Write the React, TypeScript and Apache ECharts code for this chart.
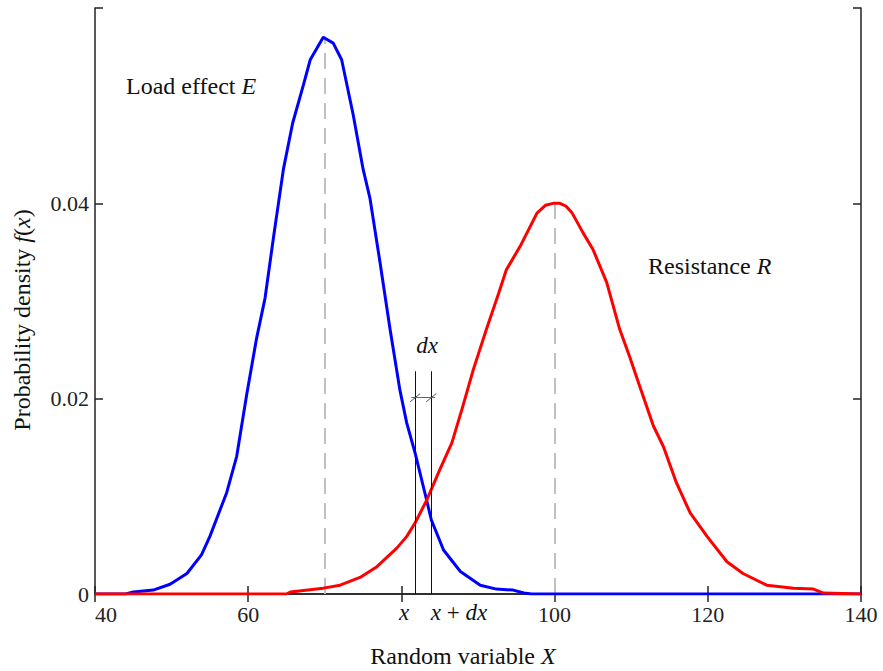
import React, { useEffect, useRef } from "react";
import * as echarts from "echarts";

// Load effect E (blue): x values and probability density
const blueX = [40, 44, 45, 47.6, 49.8, 52.0, 53.9, 55.0, 57.2, 58.5, 59.8, 61.1, 62.2, 63.3, 64.6, 65.8, 67.2, 68.1, 69.8, 71.1, 72.2, 73.7, 75.0, 75.9, 77.2, 78.5, 79.8, 80.7, 81.8, 83.3, 83.9, 85.5, 87.7, 90.3, 92.4, 94.6, 96, 97, 140];
const blueY = [0, 0, 0.0002, 0.0004, 0.001, 0.0021, 0.004, 0.0059, 0.0104, 0.0141, 0.0204, 0.0262, 0.0303, 0.0365, 0.0435, 0.0482, 0.0521, 0.0547, 0.057, 0.0564, 0.0547, 0.0491, 0.0435, 0.0405, 0.034, 0.0272, 0.0209, 0.0175, 0.0144, 0.0096, 0.0076, 0.0045, 0.0023, 0.0009, 0.0005, 0.0004, 0.0001, 0, 0];

// Resistance R (red)
const redX = [40, 65, 65.5, 69.8, 72.0, 74.6, 76.8, 79.4, 80.7, 81.8, 83.3, 85.0, 86.6, 87.9, 89.4, 91.1, 92.7, 93.7, 95.5, 97.7, 98.8, 99.8, 100.7, 101.5, 102.3, 103.7, 105.0, 106.8, 108.5, 109.8, 111.1, 112.9, 114.2, 115.9, 117.7, 119.9, 122.5, 124.6, 127.7, 131.2, 133.8, 135.1, 140];
const redY = [0, 0, 0.0002, 0.0006, 0.0009, 0.0017, 0.0028, 0.0047, 0.0059, 0.0073, 0.0096, 0.0127, 0.0155, 0.0189, 0.023, 0.0271, 0.0308, 0.0332, 0.0356, 0.039, 0.0398, 0.04, 0.04, 0.0397, 0.039, 0.037, 0.0353, 0.0319, 0.0271, 0.0243, 0.0213, 0.0172, 0.0151, 0.0114, 0.0083, 0.0059, 0.0033, 0.0021, 0.0009, 0.0006, 0.0005, 0.0001, 0];

// Axis ticks
const xTicks = [40, 60, 80, 100, 120, 140];
const xTickLabels = ["40", "60", "", "100", "120", "140"];
const yTickLabels = ["0", "0.02", "0.04", ""];

// Reference lines
const meanE = 70;
const peakE = 0.0568;
const meanR = 100;
const peakR = 0.0399;
const xLeft = 81.8;
const xRight = 83.9;
const dxTop = 0.0228;
const dimY = 0.0201;

const FONT = "'Liberation Serif', 'Times New Roman', serif";

export default function App() {
  const ref = useRef<HTMLDivElement>(null);
  useEffect(() => {
    document.body.style.margin = "0";
    const chart = echarts.init(ref.current!, null, { renderer: "svg" });
    const blueData = blueX.map((x, i) => [x, blueY[i]]);
    const redData = redX.map((x, i) => [x, redY[i]]);
    const axisLine = { show: true, lineStyle: { color: "#222", width: 1.5 } };
    const tick = { show: true, inside: true, length: 8, lineStyle: { color: "#222", width: 1.5 } };
    const seg = (x1: number, y1: number, x2: number, y2: number, ls?: any): any => [
      ls ? { coord: [x1, y1], lineStyle: ls } : { coord: [x1, y1] },
      { coord: [x2, y2] },
    ];
    const rich = (size: number) => ({
      a: { fontFamily: FONT, fontSize: size, fill: "#111" },
      b: { fontFamily: FONT, fontSize: size, fontStyle: "italic", fill: "#111" },
    });
    chart.setOption({
      animation: false,
      backgroundColor: "#fff",
      grid: { left: 95, right: 22, top: 8, bottom: 77, containLabel: false },
      xAxis: [
        {
          type: "value",
          min: 40,
          max: 140,
          interval: 20,
          position: "bottom",
          axisLine,
          axisTick: tick,
          splitLine: { show: false },
          axisLabel: {
            margin: 9,
            fontFamily: FONT,
            fontSize: 22,
            color: "#222",
            alignMinLabel: "left",
            formatter: (v: number) => xTickLabels[xTicks.indexOf(v)] ?? "",
          },
        },
        {
          type: "value",
          min: 40,
          max: 140,
          interval: 20,
          position: "top",
          axisLine,
          axisTick: tick,
          splitLine: { show: false },
          axisLabel: { show: false },
        },
      ],
      yAxis: [
        {
          type: "value",
          min: 0,
          max: 0.06,
          interval: 0.02,
          position: "left",
          axisLine,
          axisTick: tick,
          splitLine: { show: false },
          axisLabel: {
            margin: 6,
            fontFamily: FONT,
            fontSize: 22,
            color: "#222",
            formatter: (v: number) => yTickLabels[Math.round(v / 0.02)] ?? "",
          },
        },
        {
          type: "value",
          min: 0,
          max: 0.06,
          interval: 0.02,
          position: "right",
          axisLine,
          axisTick: tick,
          splitLine: { show: false },
          axisLabel: { show: false },
        },
      ],
      series: [
        {
          type: "line",
          data: blueData,
          showSymbol: false,
          symbol: "none",
          lineStyle: { color: "#0000ff", width: 3 },
          z: 3,
          markLine: {
            silent: true,
            symbol: "none",
            label: { show: false },
            lineStyle: { color: "#c0c0c0", width: 2, type: [16, 9] },
            data: [seg(meanE, 0, meanE, peakE), seg(meanR, 0, meanR, peakR)],
            z: 1,
          },
        },
        {
          type: "line",
          data: redData,
          showSymbol: false,
          symbol: "none",
          lineStyle: { color: "#ff0000", width: 3 },
          z: 4,
          markLine: {
            silent: true,
            symbol: "none",
            label: { show: false },
            lineStyle: { color: "#111", width: 1, type: "solid" },
            data: [
              seg(xLeft, 0, xLeft, dxTop),
              seg(xRight, 0, xRight, dxTop),
              seg(81.3, dimY, 84.4, dimY, { color: "#666", width: 1, type: "solid" }),
            ],
            z: 5,
          },
        },
        {
          type: "line",
          data: [],
          markLine: {
            silent: true,
            symbol: "none",
            label: { show: false },
            lineStyle: { color: "#555", width: 1, type: "solid" },
            data: [
              seg(xLeft - 0.65, dimY - 0.00042, xLeft + 0.65, dimY + 0.00042),
              seg(xRight - 0.65, dimY - 0.00042, xRight + 0.65, dimY + 0.00042),
            ],
          },
        },
      ],
      graphic: [
        {
          type: "text",
          x: 126,
          y: 86,
          style: { text: "{a|Load effect }{b|E}", verticalAlign: "middle", rich: rich(24) },
        },
        {
          type: "text",
          x: 648,
          y: 266,
          style: { text: "{a|Resistance }{b|R}", verticalAlign: "middle", rich: rich(24) },
        },
        {
          type: "text",
          x: 427,
          y: 345,
          style: {
            text: "dx",
            align: "center",
            verticalAlign: "middle",
            fontFamily: FONT,
            fontSize: 23,
            fontStyle: "italic",
            fill: "#111",
          },
        },
        {
          type: "text",
          x: 404,
          y: 612,
          style: {
            text: "x",
            align: "center",
            verticalAlign: "middle",
            fontFamily: FONT,
            fontSize: 23,
            fontStyle: "italic",
            fill: "#111",
          },
        },
        {
          type: "text",
          x: 459,
          y: 612,
          style: { text: "{b|x}{a| + }{b|dx}", align: "center", verticalAlign: "middle", rich: rich(23) },
        },
        {
          type: "text",
          x: 463,
          y: 656,
          style: { text: "{a|Random variable }{b|X}", align: "center", verticalAlign: "middle", rich: rich(24) },
        },
        {
          type: "text",
          x: 22,
          y: 320,
          rotation: Math.PI / 2,
          style: {
            text: "{a|Probability density }{b|f}{a|(}{b|x}{a|)}",
            align: "center",
            verticalAlign: "middle",
            rich: rich(24),
          },
        },
      ],
    });
    return () => chart.dispose();
  }, []);
  return <div ref={ref} style={{ width: 883, height: 671 }} />;
}
